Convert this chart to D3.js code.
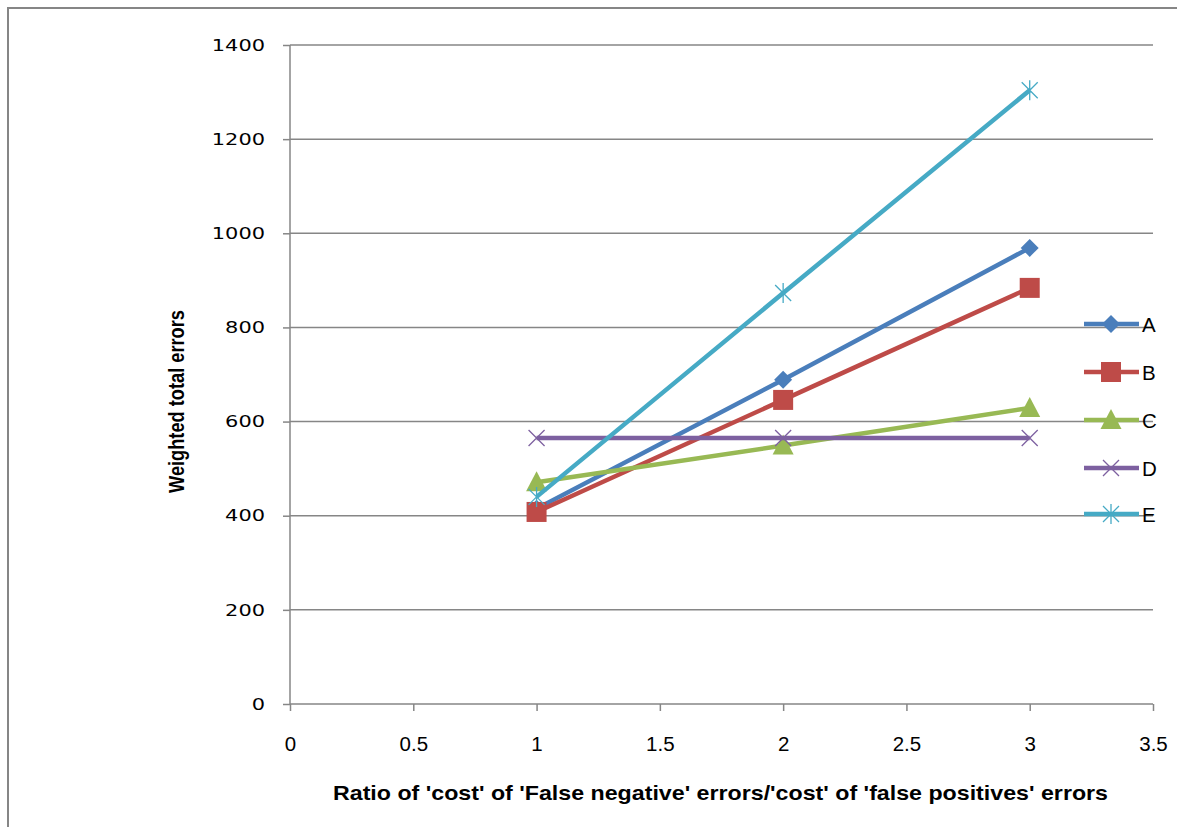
<!DOCTYPE html>
<html>
<head>
<meta charset="utf-8">
<script src="https://cdn.jsdelivr.net/npm/d3@7"></script>
<style>
  html, body { margin: 0; padding: 0; background: #fff; }
  svg { display: block; }
</style>
</head>
<body>
<svg id="chart" width="1177" height="827"></svg>
<script>
// Cost ratio (x) and weighted total errors per model
const ratios = [1, 2, 3];
const seriesNames = ["A", "B", "C", "D", "E"];
const valuesA = [415, 689, 969];
const valuesB = [408, 646, 884];
const valuesC = [471, 549, 629];
const valuesD = [565, 565, 565];
const valuesE = [440, 873, 1304];
const xTicks = [0, 0.5, 1, 1.5, 2, 2.5, 3, 3.5];
const yTicks = [0, 200, 400, 600, 800, 1000, 1200, 1400];

const colors = { A: "#4A7EBB", B: "#BE4B48", C: "#98B954", D: "#7D60A0", E: "#46AAC5" };
const markers = { A: "diamond", B: "square", C: "triangle", D: "x", E: "star" };
const series = [
  { name: "A", values: valuesA },
  { name: "B", values: valuesB },
  { name: "C", values: valuesC },
  { name: "D", values: valuesD },
  { name: "E", values: valuesE }
];

const svg = d3.select("#chart");
const sans = "Liberation Sans, Arial, sans-serif";

// outer frame (top and left edges visible)
svg.append("path")
  .attr("d", "M8,827 L8,8 L1177,8")
  .attr("fill", "none").attr("stroke", "#868686").attr("stroke-width", 2);

const x = d3.scaleLinear().domain([0, 3.5]).range([290, 1153]);
const y = d3.scaleLinear().domain([0, 1400]).range([704, 45]);

// horizontal gridlines
svg.append("g").selectAll("line").data(yTicks.filter(v => v > 0)).join("line")
  .attr("x1", x(0)).attr("x2", x(3.5))
  .attr("y1", d => y(d)).attr("y2", d => y(d))
  .attr("stroke", "#868686").attr("stroke-width", 1.5);

// y axis
const yAxis = svg.append("g").attr("transform", `translate(${x(0)},0)`)
  .call(d3.axisLeft(y).tickValues(yTicks).tickSize(7).tickPadding(18).tickFormat(d3.format("d")));
yAxis.select(".domain").attr("stroke", "#868686").attr("stroke-width", 1.5).attr("d", `M0,${y(1400)}V${y(0)}`);
yAxis.selectAll(".tick line").attr("stroke", "#868686").attr("stroke-width", 1.5);
yAxis.selectAll(".tick text")
  .attr("font-family", "DejaVu Sans, Verdana, sans-serif")
  .attr("font-size", 16.5).attr("fill", "#000")
  .attr("textLength", d => String(d).length * 13.3)
  .attr("lengthAdjust", "spacingAndGlyphs");

// x axis
const xAxis = svg.append("g").attr("transform", `translate(0,${y(0)})`)
  .call(d3.axisBottom(x).tickValues(xTicks).tickSize(7).tickPadding(25).tickFormat(d => String(d)));
xAxis.select(".domain").attr("stroke", "#868686").attr("stroke-width", 1.5).attr("d", `M${x(0)},0H${x(3.5)}`);
xAxis.selectAll(".tick line").attr("stroke", "#868686").attr("stroke-width", 1.5);
xAxis.selectAll(".tick text")
  .attr("font-family", sans)
  .attr("font-size", 20.5).attr("fill", "#000");

// axis titles
svg.append("text")
  .attr("x", 333).attr("y", 800)
  .attr("font-family", sans)
  .attr("font-weight", "bold").attr("font-size", 21).attr("fill", "#000")
  .attr("textLength", 775).attr("lengthAdjust", "spacingAndGlyphs")
  .text("Ratio of 'cost' of 'False negative' errors/'cost' of 'false positives' errors");

svg.append("text")
  .attr("transform", "translate(184,493) rotate(-90)")
  .attr("font-family", sans)
  .attr("font-weight", "bold").attr("font-size", 21.5).attr("fill", "#000")
  .attr("textLength", 183).attr("lengthAdjust", "spacingAndGlyphs")
  .text("Weighted total errors");

// marker drawing
function drawMarker(g, type, color) {
  if (type === "diamond") {
    g.append("path").attr("d", "M0,-9L9,0L0,9L-9,0Z").attr("fill", color);
  } else if (type === "square") {
    g.append("rect").attr("x", -10).attr("y", -10).attr("width", 20).attr("height", 20).attr("fill", color);
  } else if (type === "triangle") {
    g.append("path").attr("d", "M0,-11L10.5,9L-10.5,9Z").attr("fill", color);
  } else if (type === "x") {
    g.append("path").attr("d", "M-8,-8L8,8M-8,8L8,-8").attr("stroke", color).attr("stroke-width", 1.3).attr("fill", "none");
  } else if (type === "star") {
    g.append("path").attr("d", "M-8,-8L8,8M-8,8L8,-8M0,-10L0,10").attr("stroke", color).attr("stroke-width", 1.3).attr("fill", "none");
  }
}

const line = d3.line().x((d, i) => x(ratios[i])).y(d => y(d));

const seriesG = svg.append("g");
series.forEach(s => {
  const g = seriesG.append("g");
  g.append("path").attr("d", line(s.values))
    .attr("fill", "none").attr("stroke", colors[s.name]).attr("stroke-width", 4.5)
    .attr("stroke-linejoin", "round");
  s.values.forEach((v, i) => {
    const m = g.append("g").attr("transform", `translate(${x(ratios[i])},${y(v)})`);
    drawMarker(m, markers[s.name], colors[s.name]);
  });
});

// legend
const legendY = [324, 372, 420, 468, 514];
const legend = svg.append("g");
series.forEach((s, i) => {
  const g = legend.append("g").attr("transform", `translate(0,${legendY[i]})`);
  g.append("line").attr("x1", 1084).attr("x2", 1139).attr("y1", 0).attr("y2", 0)
    .attr("stroke", colors[s.name]).attr("stroke-width", 4.5);
  const m = g.append("g").attr("transform", "translate(1111,0)");
  drawMarker(m, markers[s.name], colors[s.name]);
  g.append("text").attr("x", 1142).attr("y", 8)
    .attr("font-family", sans)
    .attr("font-size", 20.5).attr("fill", "#000").text(s.name);
});
</script>
</body>
</html>
